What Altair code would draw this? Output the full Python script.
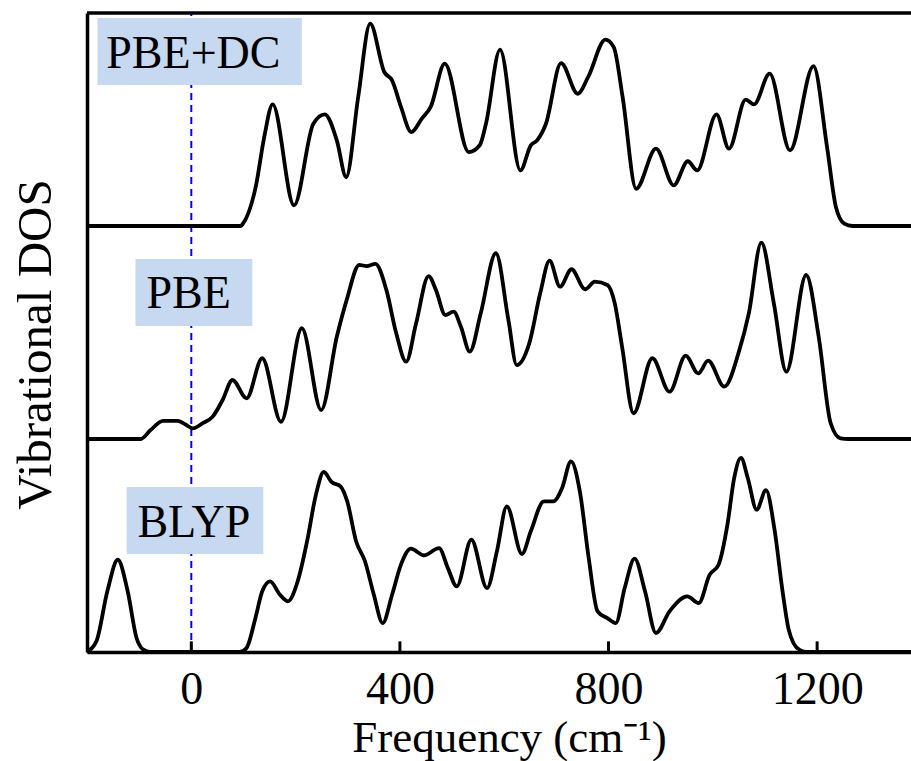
import altair as alt
import pandas as pd

FONT = "Liberation Serif"

# ---- data (frequency in cm^-1, DOS in panel units) ----
pbedc_freq = [-200, 95, 99, 124, 140, 156, 197, 234, 256, 279, 297, 320, 343, 370, 385, 402,
              422, 442, 459, 486, 532, 553, 565, 592, 631, 651, 663, 680, 709, 741, 761, 794,
              810, 827, 853, 891, 925, 952, 970, 1007, 1031, 1063, 1079, 1109, 1148, 1193,
              1219, 1236, 1252, 1268, 1380]
pbedc_dos = [0, 0, 0.011, 0.19, 0.42, 0.571, 0.097, 0.48, 0.524, 0.402, 0.23, 0.606, 0.95,
             0.723, 0.684, 0.559, 0.441, 0.504, 0.559, 0.762, 0.347, 0.379, 0.48, 0.828,
             0.261, 0.379, 0.402, 0.48, 0.765, 0.621, 0.7, 0.875, 0.84, 0.606, 0.175, 0.363,
             0.191, 0.304, 0.261, 0.524, 0.363, 0.593, 0.571, 0.715, 0.355, 0.751, 0.371,
             0.089, 0.011, 0, 0]

pbe_freq = [-200, -97, -78, -54, -26, -12, 3, 22, 41, 60, 79, 106, 136, 172, 212, 249, 279,
            298, 322, 336, 353, 374, 393, 412, 431, 455, 469, 487, 503, 517, 534, 555, 584,
            608, 624, 648, 669, 687, 707, 729, 755, 774, 798, 812, 826, 848, 884, 917, 948,
            972, 991, 1022, 1050, 1069, 1093, 1117, 1141, 1179, 1203, 1226, 1245, 1260, 1380]
pbe_dos = [0, 0, 0.042, 0.085, 0.085, 0.069, 0.05, 0.074, 0.105, 0.183, 0.277, 0.191, 0.379,
           0.081, 0.52, 0.136, 0.48, 0.653, 0.817, 0.812, 0.822, 0.7, 0.496, 0.363, 0.543,
           0.765, 0.7, 0.582, 0.598, 0.527, 0.41, 0.59, 0.872, 0.559, 0.347, 0.449, 0.684,
           0.837, 0.715, 0.797, 0.703, 0.739, 0.723, 0.637, 0.433, 0.121, 0.379, 0.222,
           0.391, 0.308, 0.368, 0.246, 0.41, 0.59, 0.922, 0.637, 0.316, 0.77, 0.48, 0.074,
           0.003, 0, 0]

blyp_freq = [-200, -182, -161, -141, -122, -105, -92, -79, 93, 106, 123, 136, 151, 170, 185,
             204, 222, 239, 254, 269, 286, 299, 316, 333, 350, 367, 385, 402, 421, 446, 475,
             492, 509, 537, 567, 586, 605, 634, 651, 676, 694, 711, 728, 745, 762, 779, 797,
             814, 831, 850, 870, 891, 917, 951, 973, 994, 1011, 1028, 1041, 1054, 1067, 1084,
             1102, 1118, 1134, 1145, 1155, 1168, 1180, 1380]
blyp_dos = [0, 0.05, 0.285, 0.433, 0.285, 0.066, 0.011, 0, 0, 0.019, 0.16, 0.285, 0.332,
            0.269, 0.238, 0.332, 0.52, 0.739, 0.845, 0.798, 0.778, 0.707, 0.52, 0.426, 0.269,
            0.136, 0.269, 0.41, 0.485, 0.454, 0.488, 0.394, 0.308, 0.527, 0.3, 0.473, 0.684,
            0.46, 0.567, 0.707, 0.707, 0.77, 0.895, 0.754, 0.441, 0.191, 0.16, 0.136, 0.3,
            0.438, 0.285, 0.089, 0.191, 0.261, 0.23, 0.363, 0.41, 0.598, 0.817, 0.911, 0.817,
            0.668, 0.76, 0.58, 0.28, 0.11, 0.04, 0.008, 0, 0]

series_names = ["BLYP", "PBE", "PBE+DC"]
tick_values = [0, 400, 800, 1200]

# ---- build tables ----
rows = []
for k, (name, fr, ds) in enumerate(zip(series_names,
                                       [blyp_freq, pbe_freq, pbedc_freq],
                                       [blyp_dos, pbe_dos, pbedc_dos])):
    for f, d in zip(fr, ds):
        rows.append({"series": name, "f": f, "y": d + k})
curves = pd.DataFrame(rows)

# label boxes (annotation placement)
boxes = pd.DataFrame({
    "label": series_names,
    "x1": [-124, -107, -180],
    "x2": [138, 117, 212],
    "y1": [0.460, 1.531, 2.662],
    "y2": [0.775, 1.845, 2.977],
    "tx": [5, -5, 4],
    "ty": [0.540, 1.614, 2.742],
})

zero_line = pd.DataFrame({"f": [0], "y1": [0], "y2": [3]})
ticks_df = pd.DataFrame({"f": tick_values, "y1": [0] * 4, "y2": [0.05] * 4})
top_df = pd.DataFrame({"f1": [-200], "f2": [1380], "y": [3]})

xscale = alt.Scale(domain=[-200, 1380], nice=False, zero=False)
yscale = alt.Scale(domain=[0, 3], nice=False, zero=False)

xaxis = alt.Axis(values=tick_values, format="d", title="Frequency (cm\u207b\u00b9)", grid=False,
                 ticks=True, tickSize=0, tickOpacity=0,
                 domainColor="black", domainWidth=3.5,
                 labelFont=FONT, labelFontSize=46, labelColor="black",
                 labelPadding=51, labelBaseline="alphabetic",
                 labelFlush=False, labelOverlap=False,
                 titleFont=FONT, titleFontSize=45, titleFontWeight="normal",
                 titleColor="black", titleX=422, titleY=99, titleAlign="center",
                 titleBaseline="alphabetic")
yaxis = alt.Axis(title="Vibrational DOS", labels=False, ticks=False, grid=False,
                 domainColor="black", domainWidth=3.5,
                 titleFont=FONT, titleFontSize=49, titleFontWeight="normal",
                 titleColor="black", titleAngle=270, titleX=-37, titleY=331,
                 titleAlign="center", titleBaseline="alphabetic")


def X(field):
    return alt.X(field, type="quantitative", scale=xscale, axis=xaxis)


def Y(field):
    return alt.Y(field, type="quantitative", scale=yscale, axis=yaxis)


dash = alt.Chart(zero_line).mark_rule(color="#0000ff", strokeWidth=2, strokeDash=[7, 5]).encode(
    x=X("f"), y=Y("y1"), y2="y2")

rects = alt.Chart(boxes).mark_rect(color="#c6d9f1").encode(
    x=X("x1"), x2="x2", y=Y("y1"), y2="y2")

texts = alt.Chart(boxes).mark_text(font=FONT, fontSize=46, color="black",
                                   align="center", baseline="alphabetic").encode(
    x=X("tx"), y=Y("ty"), text="label:N")

lines = alt.Chart(curves).mark_line(color="black", strokeWidth=3.8,
                                    interpolate="monotone", strokeJoin="round").encode(
    x=X("f"), y=Y("y"), detail="series:N", order="f:Q")

ticks = alt.Chart(ticks_df).mark_rule(color="black", strokeWidth=3).encode(
    x=X("f"), y=Y("y1"), y2="y2")

top = alt.Chart(top_df).mark_rule(color="black", strokeWidth=3.5).encode(
    x=X("f1"), x2="f2", y=Y("y"))

chart = alt.layer(dash, rects, texts, lines, ticks, top).properties(
    width=824, height=639,
    autosize=alt.AutoSizeParams(type="none"),
    padding={"left": 87, "top": 13, "right": 0, "bottom": 109},
    background="white",
).configure_view(stroke=None)

chart.save("out.html", embed_options={"renderer": "svg", "actions": False})
